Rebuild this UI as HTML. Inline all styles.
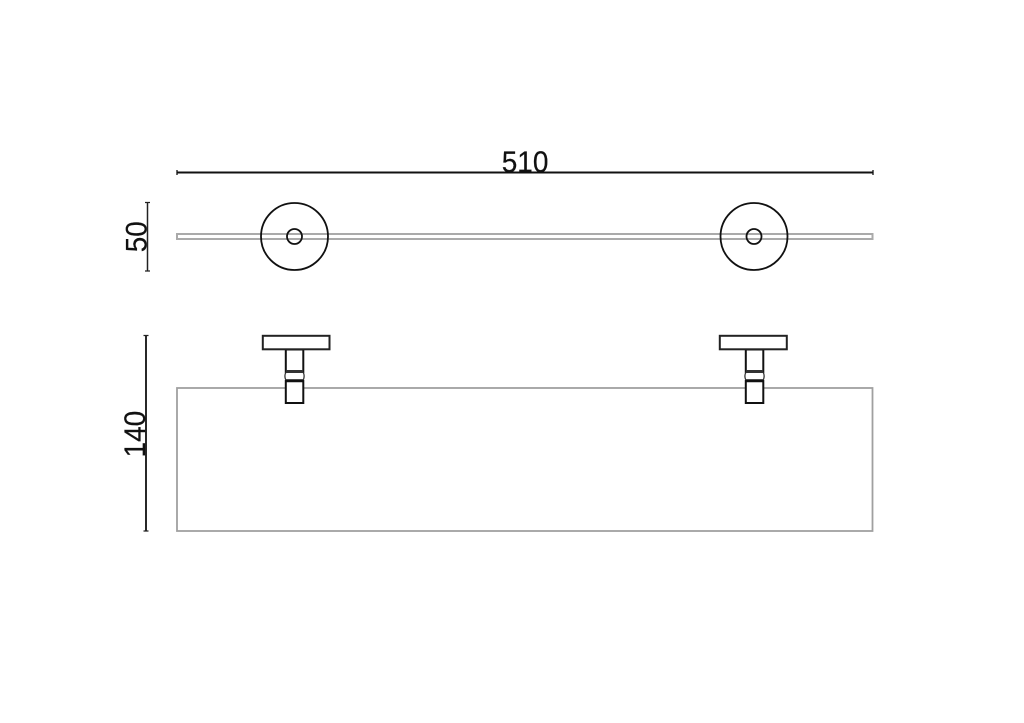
<!DOCTYPE html>
<html>
<head>
<meta charset="utf-8">
<style>
html,body{margin:0;padding:0;background:#fff;width:1024px;height:723px;overflow:hidden}
svg{display:block}
text{font-family:"Liberation Sans",sans-serif;font-size:30px;fill:#111;stroke:#111;stroke-width:.2px}
</style>
</head>
<body>
<svg width="1024" height="723" viewBox="0 0 1024 723" xmlns="http://www.w3.org/2000/svg" fill="none">
<rect width="1024" height="723" fill="#fff"/>
<!-- top dimension -->
<path d="M177 172.500H873" stroke="#111" stroke-width="2"/>
<path d="M177 170V175M873 170V175" stroke="#111" stroke-width="1.300"/>
<text x="501.700" y="172" textLength="46.700" lengthAdjust="spacingAndGlyphs">510</text>
<!-- 50 dimension -->
<path d="M147.500 202V271" stroke="#222" stroke-width="1.500"/>
<path d="M145 202.500H150M145 271H150" stroke="#222" stroke-width="1.300"/>
<text transform="translate(146.500 252.300) rotate(-90)" textLength="31" lengthAdjust="spacingAndGlyphs">50</text>
<!-- top view -->
<rect x="177" y="234" width="695.500" height="5" stroke="#aaa" stroke-width="2"/>
<circle cx="294.500" cy="236.500" r="33.500" stroke="#111" stroke-width="1.800"/>
<circle cx="294.500" cy="236.500" r="7.500" stroke="#111" stroke-width="1.800"/>
<circle cx="754" cy="236.500" r="33.500" stroke="#111" stroke-width="1.800"/>
<circle cx="754" cy="236.500" r="7.500" stroke="#111" stroke-width="1.800"/>
<!-- 140 dimension -->
<path d="M146 335V531" stroke="#111" stroke-width="1.800"/>
<path d="M143.500 335.500H148.500M143.500 531H148.500" stroke="#222" stroke-width="1.300"/>
<text transform="translate(145 457.500) rotate(-90)" textLength="46.700" lengthAdjust="spacingAndGlyphs">140</text>
<!-- front view glass -->
<rect x="177" y="388" width="695.500" height="143" stroke="#a0a0a0" stroke-width="1.800"/>
<!-- bracket 1 -->
<g>
<rect x="285.800" y="349.500" width="17.500" height="53.500" fill="#fff" stroke="#111" stroke-width="2"/>
<rect x="262.800" y="335.800" width="66.700" height="13.500" fill="#fff" stroke="#222" stroke-width="2"/>
<rect x="283" y="373" width="23" height="7" fill="#fff"/>
<path d="M285.800 371.500H303.300" stroke="#333" stroke-width="3"/>
<path d="M285.800 380.800H303.300" stroke="#111" stroke-width="3"/>
<path d="M285.800 372.500Q284 376 285.800 380M303.300 372.500Q305 376 303.300 380" stroke="#333" stroke-width="1.300"/>
</g>
<!-- bracket 2 -->
<g>
<rect x="745.800" y="349.500" width="17.500" height="53.500" fill="#fff" stroke="#111" stroke-width="2"/>
<rect x="719.800" y="335.800" width="67" height="13.500" fill="#fff" stroke="#222" stroke-width="2"/>
<rect x="743" y="373" width="23" height="7" fill="#fff"/>
<path d="M745.800 371.500H763.300" stroke="#333" stroke-width="3"/>
<path d="M745.800 380.800H763.300" stroke="#111" stroke-width="3"/>
<path d="M745.800 372.500Q744 376 745.800 380M763.300 372.500Q765 376 763.300 380" stroke="#333" stroke-width="1.300"/>
</g>
</svg>
</body>
</html>
